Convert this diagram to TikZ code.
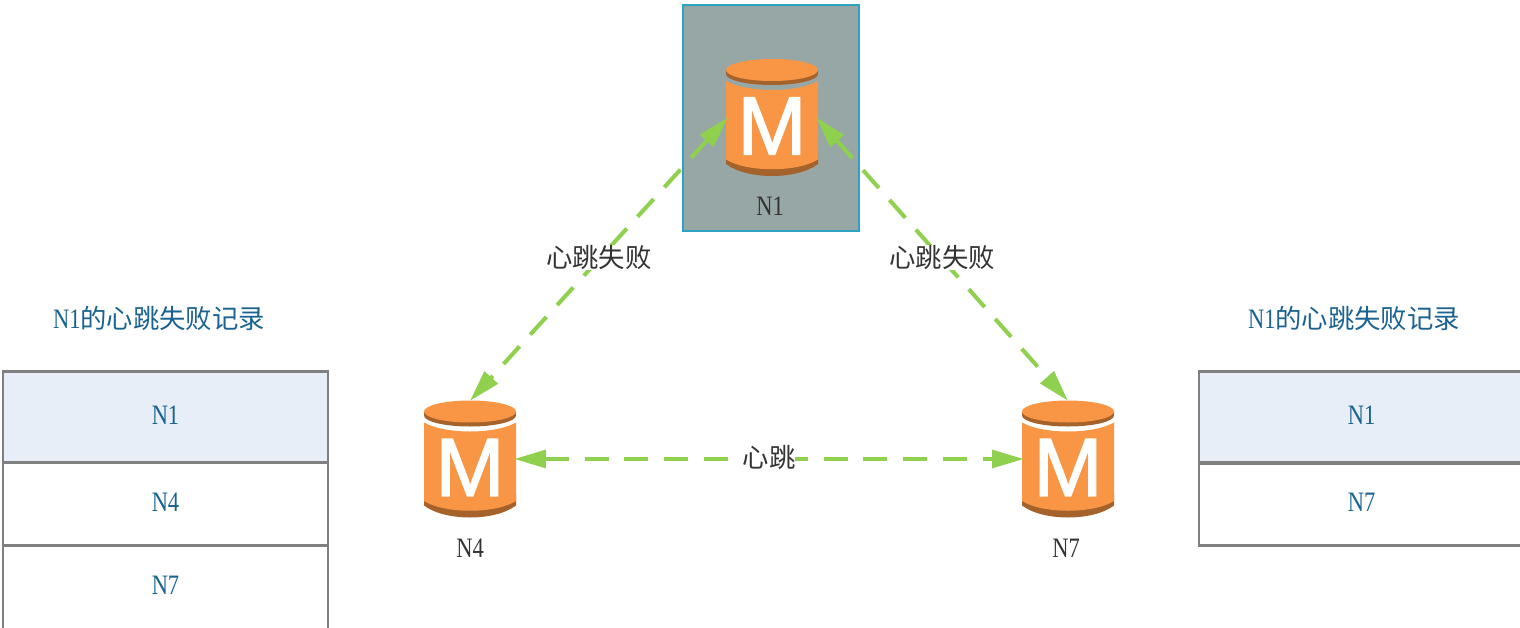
\documentclass[tikz,border=0pt]{standalone}
\usepackage{fontspec}
\setmainfont[FakeStretch=0.8]{Liberation Serif}
\newfontfamily\cjk{Noto Sans CJK SC}
\newfontfamily\iconfont[FakeBold=1.6]{Liberation Sans}
\usetikzlibrary{
  positioning,
  calc,
  arrows.meta
}
\definecolor{iconorange}{HTML}{F99645}
\definecolor{icondark}{HTML}{A5622A}
\definecolor{hbgreen}{HTML}{8FD14F}
\definecolor{boxteal}{HTML}{2CA3C3}
\definecolor{boxgray}{HTML}{97A7A5}
\definecolor{recblue}{HTML}{1A6290}
\definecolor{cellblue}{HTML}{E8EEF7}
\definecolor{cellline}{HTML}{808080}
\definecolor{txtdark}{HTML}{333333}
\tikzset{
  heartbeat/.style={draw=hbgreen, line width=2.3pt, dash pattern=on 13.6pt off 9.07pt,
    {Triangle[length=18pt,width=10pt]}-{Triangle[length=18pt,width=10pt]}},
  hblabel/.style={fill=white, inner sep=0pt, yshift=1pt, text=txtdark, font=\cjk\fontsize{15pt}{17pt}\selectfont},
  iconlabel/.style={inner sep=0pt, text=txtdark, font=\fontsize{16pt}{18pt}\selectfont},
  rectitle/.style={inner sep=0pt, text=recblue, font=\fontsize{16pt}{18pt}\selectfont},
  reccell/.style={draw=cellline, line width=1.6pt, inner sep=0pt, text=recblue, text depth=2.3pt,
    minimum width=185pt, font=\fontsize{16pt}{18pt}\selectfont},
  iconbox/.style={inner sep=0pt, minimum width=49.9pt, minimum height=65.8pt}
}
\newcommand{\cjktitle}[1]{{\cjk\fontsize{15pt}{17pt}\selectfont #1}}
% one database icon, centre at px coordinates #2,#3
\newcommand{\dbicon}[3]{%
  \node[iconbox] (#1) at (#2,#3) {};
  \begin{scope}[shift={(#2,#3)}]
    \fill[icondark] (0,-43.5) ellipse[x radius=46,y radius=11];
    \fill[icondark] (-46,-47.5) rectangle (46,-43.5);
    \fill[iconorange] (0,-47.5) ellipse[x radius=46,y radius=11];
    \fill[icondark] (-46,35) -- (-46,46.5) .. controls (-25,62.5) and (25,62.5) .. (46,46.5)
      -- (46,35) -- cycle;
    \fill[iconorange] (-46,-36.5) .. controls (-25,-24.5) and (25,-24.5) .. (46,-36.5) -- (46,42)
      .. controls (25,55) and (-25,55) .. (-46,42) -- cycle;
    \node[text=white, inner sep=0pt, font=\iconfont\fontsize{47pt}{47pt}\selectfont] at (0,8.5) {M};
  \end{scope}}

\begin{document}
\begin{tikzpicture}[x=0.02cm, y=-0.02cm]
  \useasboundingbox (0,0) rectangle (1520,628);

  % N1 highlight box
  \node[draw=boxteal, fill=boxgray, line width=1.1pt, inner sep=0pt, minimum width=99.8pt,
    minimum height=128.2pt] (boxn1) at (771,118) {};

  % Icons
  \dbicon{n1}{772}{117.5}
  \dbicon{n4}{470}{459}
  \dbicon{n7}{1068}{459}
  \node[iconlabel] (lbln1) at (770,206) {N1};
  \node[iconlabel] (lbln4) at (470,548) {N4};
  \node[iconlabel] (lbln7) at (1066,548) {N7};

  % Heartbeats
  \draw[heartbeat] (n1.west) -- node[hblabel] (hbleft) {心跳失败} (n4.north);
  \draw[heartbeat] (n1.east) -- node[hblabel] (hbright) {心跳失败} (n7.north);
  \draw[heartbeat] (n4.east) -- node[hblabel] (hbbottom) {心跳} (n7.west);

  % Left record
  \node[rectitle] (titleleft) at (159,318) {N1\cjktitle{的心跳失败记录}};
  \node[reccell, fill=cellblue, minimum height=52.2pt] (leftn1) at (165.5,417) {N1};
  \node[reccell, minimum height=47pt] (leftn4) at (165.5,504) {N4};
  \node[reccell, minimum height=48.2pt] (leftn7) at (165.5,587.5) {N7};

  % Right record
  \node[rectitle] (titleright) at (1354,318) {N1\cjktitle{的心跳失败记录}};
  \node[reccell, fill=cellblue, minimum height=52.2pt] (rightn1) at (1361.5,417) {N1\hspace{3pt}};
  \node[reccell, minimum height=47pt] (rightn7) at (1361.5,504.5) {N7\hspace{3pt}};
\end{tikzpicture}
\end{document}
